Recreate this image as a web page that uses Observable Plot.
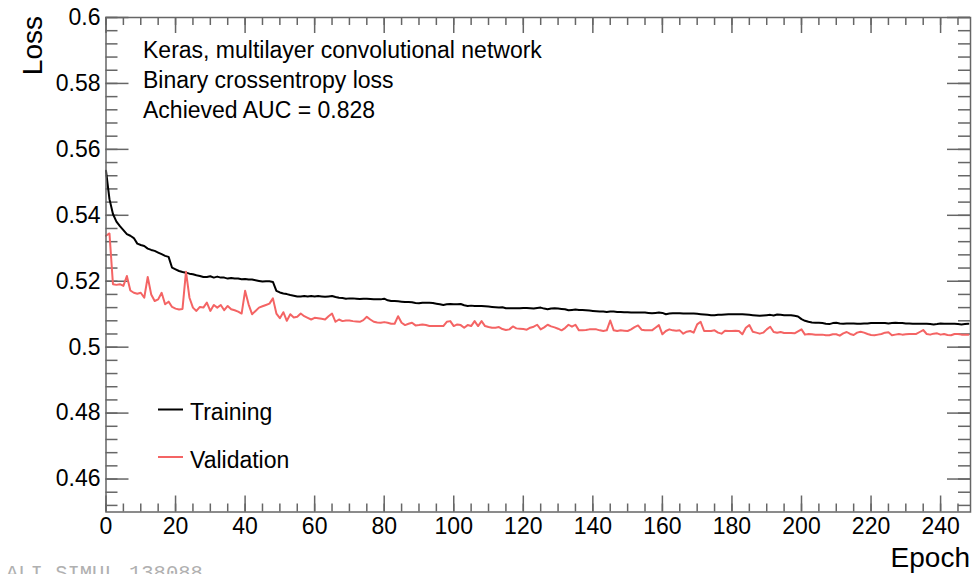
<!DOCTYPE html>
<html><head><meta charset="utf-8">
<script src="https://cdn.jsdelivr.net/npm/d3@7"></script>
<script src="https://cdn.jsdelivr.net/npm/@observablehq/plot@0.6"></script>
<style>html,body{margin:0;padding:0;background:#fff;overflow:hidden}</style>
</head><body><div id="chart"></div>
<script>
// ---- data ----
const training = [
 0.5535,0.5449,0.5404,0.5381,0.5367,0.5355,0.5343,0.5338,0.5331,0.5314,
 0.5310,0.5307,0.5299,0.5295,0.5292,0.5287,0.5282,0.5277,0.5274,0.5241,
 0.5236,0.5231,0.5228,0.5226,0.5223,0.5221,0.5218,0.5216,0.5213,0.5213,
 0.5215,0.5211,0.5214,0.5211,0.5211,0.5208,0.5210,0.5208,0.5208,0.5206,
 0.5207,0.5205,0.5205,0.5203,0.5201,0.5199,0.5200,0.5200,0.5198,0.5171,
 0.5166,0.5163,0.5161,0.5158,0.5156,0.5154,0.5154,0.5155,0.5154,0.5155,
 0.5154,0.5155,0.5154,0.5153,0.5154,0.5155,0.5152,0.5150,0.5149,0.5147,
 0.5148,0.5148,0.5147,0.5146,0.5147,0.5147,0.5146,0.5145,0.5145,0.5145,
 0.5147,0.5142,0.5140,0.5140,0.5139,0.5138,0.5137,0.5137,0.5136,0.5134,
 0.5133,0.5135,0.5135,0.5135,0.5134,0.5132,0.5130,0.5128,0.5130,0.5131,
 0.5130,0.5130,0.5131,0.5127,0.5125,0.5126,0.5125,0.5125,0.5125,0.5124,
 0.5123,0.5122,0.5121,0.5120,0.5121,0.5118,0.5118,0.5118,0.5118,0.5118,
 0.5119,0.5119,0.5118,0.5117,0.5119,0.5120,0.5117,0.5115,0.5117,0.5118,
 0.5117,0.5116,0.5115,0.5112,0.5113,0.5114,0.5113,0.5113,0.5112,0.5111,
 0.5110,0.5109,0.5108,0.5108,0.5107,0.5108,0.5108,0.5107,0.5107,0.5106,
 0.5106,0.5105,0.5105,0.5105,0.5105,0.5105,0.5104,0.5103,0.5104,0.5105,
 0.5104,0.5100,0.5102,0.5103,0.5103,0.5103,0.5102,0.5102,0.5102,0.5102,
 0.5101,0.5100,0.5099,0.5098,0.5097,0.5097,0.5098,0.5098,0.5099,0.5100,
 0.5100,0.5100,0.5100,0.5100,0.5099,0.5098,0.5097,0.5096,0.5095,0.5096,
 0.5097,0.5098,0.5096,0.5099,0.5098,0.5097,0.5097,0.5097,0.5095,0.5093,
 0.5085,0.5080,0.5077,0.5075,0.5074,0.5074,0.5073,0.5071,0.5070,0.5073,
 0.5074,0.5072,0.5071,0.5072,0.5072,0.5072,0.5071,0.5071,0.5072,0.5072,
 0.5073,0.5073,0.5073,0.5073,0.5073,0.5072,0.5073,0.5074,0.5073,0.5073,
 0.5072,0.5072,0.5071,0.5071,0.5071,0.5071,0.5071,0.5070,0.5069,0.5070,
 0.5072,0.5071,0.5071,0.5071,0.5071,0.5070,0.5069,0.5070,0.5071
];
const validation = [
 0.5338,0.5345,0.5191,0.5189,0.5191,0.5186,0.5216,0.5172,0.5165,0.5162,
 0.5165,0.5150,0.5213,0.5160,0.5140,0.5145,0.5165,0.5130,0.5138,0.5122,
 0.5117,0.5114,0.5116,0.5229,0.5150,0.5120,0.5110,0.5122,0.5120,0.5135,
 0.5110,0.5128,0.5120,0.5128,0.5112,0.5125,0.5115,0.5112,0.5108,0.5102,
 0.5171,0.5130,0.5100,0.5110,0.5120,0.5124,0.5128,0.5132,0.5148,0.5102,
 0.5088,0.5106,0.5080,0.5100,0.5090,0.5092,0.5102,0.5094,0.5089,0.5084,
 0.5089,0.5088,0.5086,0.5084,0.5094,0.5102,0.5077,0.5084,0.5079,0.5081,
 0.5081,0.5079,0.5078,0.5077,0.5082,0.5092,0.5084,0.5077,0.5075,0.5074,
 0.5076,0.5074,0.5071,0.5071,0.5094,0.5074,0.5067,0.5071,0.5074,0.5066,
 0.5067,0.5069,0.5067,0.5064,0.5064,0.5064,0.5064,0.5064,0.5077,0.5079,
 0.5064,0.5069,0.5067,0.5059,0.5067,0.5064,0.5079,0.5064,0.5079,0.5064,
 0.5061,0.5059,0.5059,0.5061,0.5055,0.5052,0.5054,0.5063,0.5057,0.5056,
 0.5055,0.5053,0.5059,0.5062,0.5068,0.5054,0.5060,0.5068,0.5063,0.5060,
 0.5056,0.5051,0.5058,0.5068,0.5062,0.5068,0.5051,0.5051,0.5052,0.5054,
 0.5054,0.5054,0.5051,0.5049,0.5051,0.5081,0.5051,0.5049,0.5051,0.5050,
 0.5049,0.5054,0.5061,0.5066,0.5053,0.5051,0.5051,0.5051,0.5059,0.5067,
 0.5039,0.5049,0.5054,0.5051,0.5050,0.5051,0.5041,0.5047,0.5049,0.5044,
 0.5069,0.5077,0.5049,0.5049,0.5049,0.5051,0.5044,0.5041,0.5050,0.5049,
 0.5049,0.5050,0.5049,0.5039,0.5059,0.5067,0.5047,0.5044,0.5041,0.5044,
 0.5054,0.5062,0.5046,0.5044,0.5046,0.5043,0.5043,0.5043,0.5042,0.5048,
 0.5054,0.5038,0.5040,0.5039,0.5038,0.5038,0.5038,0.5036,0.5036,0.5039,
 0.5039,0.5035,0.5042,0.5046,0.5040,0.5037,0.5044,0.5047,0.5044,0.5040,
 0.5037,0.5036,0.5038,0.5040,0.5044,0.5045,0.5036,0.5038,0.5040,0.5038,
 0.5039,0.5040,0.5040,0.5040,0.5046,0.5052,0.5040,0.5038,0.5041,0.5042,
 0.5038,0.5040,0.5037,0.5036,0.5040,0.5040,0.5038,0.5038,0.5038
];
const seriesNames = ["Training", "Validation"];
const seriesColors = ["#000000", "#f46464"];
const xTicks = [0, 20, 40, 60, 80, 100, 120, 140, 160, 180, 200, 220, 240];
const yTicks = [0.46, 0.48, 0.5, 0.52, 0.54, 0.56, 0.58, 0.6];
const xMinor = d3.range(0, 250, 5);
const yMinor = d3.range(0, 38).map(i => 0.452 + i * 0.004);
const notes = ["Keras, multilayer convolutional network", "Binary crossentropy loss", "Achieved AUC = 0.828"];
const xTitle = "Epoch", yTitle = "Loss";
const footer = "ALI SIMUL 138088";

// ---- layout ----
const W = 974, H = 574, ML = 105.5, MR = 4, MT = 17, MB = 62.5;
const FW = W - ML - MR, FH = H - MT - MB;
const FONT = "'Liberation Sans', Arial, Helvetica, sans-serif";
const AX = "#666";

const rows = [];
training.forEach((v, i) => rows.push({epoch: i, loss: v, series: seriesNames[0]}));
validation.forEach((v, i) => rows.push({epoch: i, loss: v, series: seriesNames[1]}));

const plot = Plot.plot({
  width: W, height: H,
  marginLeft: ML, marginRight: MR, marginTop: MT, marginBottom: MB,
  style: {fontFamily: FONT, fontSize: "23px", background: "#fff", color: "#000", overflow: "visible"},
  x: {domain: [0, 248.6]},
  y: {domain: [0.45, 0.6]},
  color: {domain: seriesNames, range: seriesColors},
  marks: [
    Plot.axisX({ticks: xTicks, tickSize: 0, tickPadding: 5.5, tickFormat: d => String(d), label: null, fontSize: 23, fill: "#000"}),
    Plot.axisY({ticks: yTicks, tickSize: 0, tickPadding: 5.5, tickFormat: d => String(+d.toFixed(3)), label: null, fontSize: 23, fill: "#000"}),
    // bottom ticks
    Plot.tickX(xMinor, {x: d => d, insetTop: FH - 8, stroke: AX, strokeWidth: 1.5}),
    Plot.tickX(xTicks, {x: d => d, insetTop: FH - 16, stroke: AX, strokeWidth: 1.5}),
    // top ticks
    Plot.tickX(xMinor, {x: d => d, insetBottom: FH - 8, stroke: AX, strokeWidth: 1.5}),
    Plot.tickX(xTicks, {x: d => d, insetBottom: FH - 16, stroke: AX, strokeWidth: 1.5}),
    // left ticks
    Plot.tickY(yMinor, {y: d => d, insetRight: FW - 12, stroke: AX, strokeWidth: 1.5}),
    Plot.tickY(yTicks, {y: d => d, insetRight: FW - 23, stroke: AX, strokeWidth: 1.5}),
    // right ticks
    Plot.tickY(yMinor, {y: d => d, insetLeft: FW - 12, stroke: AX, strokeWidth: 1.5}),
    Plot.tickY(yTicks, {y: d => d, insetLeft: FW - 23, stroke: AX, strokeWidth: 1.5}),
    Plot.lineY(rows, {x: "epoch", y: "loss", z: "series", stroke: "series", strokeWidth: 2, curve: "linear"}),
    Plot.frame({stroke: AX, strokeWidth: 1.5})
  ]
});

const svg = d3.select(plot);
// annotation block
svg.append("g").selectAll("text").data(notes).join("text")
  .attr("x", 143).attr("y", (d, i) => 58 + i * 30).attr("text-anchor", "start")
  .attr("font-family", FONT).attr("font-size", 23).attr("fill", "#000")
  .text(d => d);
// axis titles
svg.append("text").attr("transform", "translate(42,16) rotate(-90)")
  .attr("text-anchor", "end").attr("font-family", FONT).attr("font-size", 28).attr("fill", "#000").text(yTitle);
svg.append("text").attr("x", 970).attr("y", 567)
  .attr("text-anchor", "end").attr("font-family", FONT).attr("font-size", 28).attr("fill", "#000").text(xTitle);
// legend
const lg = svg.append("g");
seriesNames.forEach((name, i) => {
  const y = 409.5 + i * 47.5;
  lg.append("line").attr("x1", 158).attr("x2", 183).attr("y1", y).attr("y2", y)
    .attr("stroke", seriesColors[i]).attr("stroke-width", 2);
  lg.append("text").attr("x", 190).attr("y", y + 10.5).attr("text-anchor", "start")
    .attr("font-family", FONT).attr("font-size", 23).attr("fill", "#000").text(name);
});
// footer tag (partly cut off at the bottom, as in the reference)
svg.append("text").attr("x", 6).attr("y", 579).attr("text-anchor", "start")
  .attr("font-family", "'Liberation Mono', 'DejaVu Sans Mono', monospace").attr("font-size", 20.5)
  .attr("fill", "#b0b0b0").text(footer);

document.getElementById("chart").appendChild(plot);
</script>
</body></html>
